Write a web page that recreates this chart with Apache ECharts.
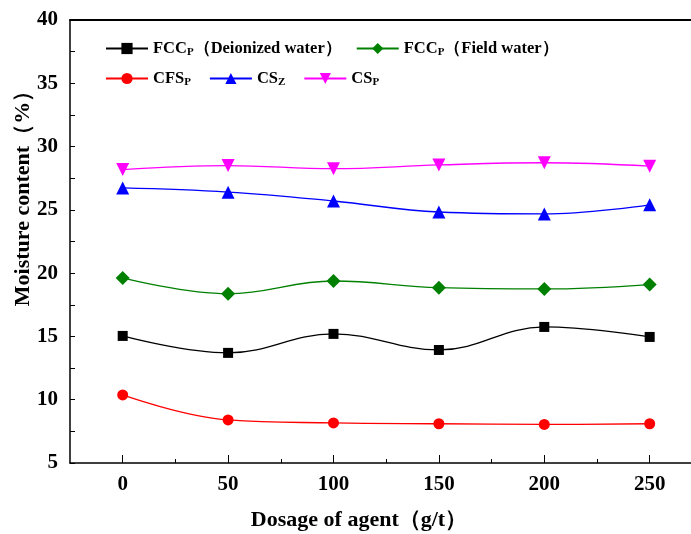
<!DOCTYPE html>
<html><head><meta charset="utf-8">
<script src="https://cdn.jsdelivr.net/npm/echarts@6/dist/echarts.min.js"></script>
<style>html,body{margin:0;padding:0;background:#fff}#c{width:691px;height:534px}</style>
</head><body><div id="c"></div>
<script>
const dosage = [0, 50, 100, 150, 200, 250];
const xTicks = [0, 50, 100, 150, 200, 250];
const xMinorTicks = [25, 75, 125, 175, 225];
const fccDeionized = [15.04, 13.7, 15.2, 13.93, 15.75, 14.96];
const fccField = [19.62, 18.38, 19.38, 18.85, 18.75, 19.1];
const cfsP = [10.38, 8.4, 8.17, 8.1, 8.05, 8.1];
const csZ = [26.73, 26.4, 25.7, 24.83, 24.68, 25.4];
const csP = [28.18, 28.5, 28.25, 28.55, 28.72, 28.45];

const F = '"Liberation Serif","Times New Roman",serif';
const names = {
  fccD: 'FCC{s|P}（Deionized water）',
  fccF: 'FCC{s|P}（Field water）',
  cfs: 'CFS{s|P}',
  csz: 'CS{s|Z}',
  csp: 'CS{s|P}'
};
function pts(arr){ return dosage.map((d,i)=>[d, arr[i]]); }
function ser(id, arr, color, symbol, size, rotate){
  return {
    name: id, type: 'line', data: pts(arr), smooth: 0.4,
    symbol: symbol, symbolSize: size, symbolRotate: rotate || 0,
    lineStyle: {color: color, width: 1.3},
    itemStyle: {color: color},
    xAxisIndex: 0, yAxisIndex: 0
  };
}
const legendText = {
  fontFamily: F, fontWeight: 'bold', fontSize: 16.5, color: '#000',
  rich: { s: {fontFamily: F, fontWeight: 'bold', fontSize: 11, color: '#000', padding: [8,0,0,0]} }
};
const XMIN = -25, XMAX = 269.6;
const chart = echarts.init(document.getElementById('c'), null, {renderer: 'canvas'});
chart.setOption({
  animation: false,
  backgroundColor: '#fff',
  grid: {left: 70, top: 20, right: 0, height: 443, containLabel: false},
  legend: [
    {data: ['fccD','fccF'], left: 100, top: 35, itemWidth: 42, itemHeight: 14, itemGap: 14,
     formatter: n => names[n], textStyle: legendText},
    {data: ['cfs','csz','csp'], left: 100, top: 65, itemWidth: 42, itemHeight: 14, itemGap: 18,
     formatter: n => names[n], textStyle: legendText}
  ],
  graphic: [
    {type: 'text', x: 359, y: 520, style: {text: 'Dosage of agent（g/t）', font: 'bold 22px ' + F,
      fill: '#000', align: 'center', verticalAlign: 'middle'}},
    {type: 'text', x: 23, y: 193, rotation: Math.PI / 2, style: {text: 'Moisture content（%）', font: 'bold 22px ' + F,
      fill: '#000', align: 'center', verticalAlign: 'middle'}}
  ],
  xAxis: [
    {type: 'value', min: XMIN, max: XMAX, position: 'bottom',
     axisLine: {show: true, onZero: false, lineStyle: {color: '#000', width: 1.5}},
     axisTick: {show: true, inside: true, length: 8, customValues: xTicks, lineStyle: {color: '#000', width: 1}},
     axisLabel: {customValues: xTicks, fontFamily: F, fontWeight: 'bold', fontSize: 21, color: '#000', margin: 11},
     splitLine: {show: false}},
    {type: 'value', min: XMIN, max: XMAX, position: 'bottom',
     axisLine: {show: false},
     axisTick: {show: true, inside: true, length: 4, customValues: xMinorTicks, lineStyle: {color: '#000', width: 1}},
     axisLabel: {show: false}, splitLine: {show: false}},
    {type: 'value', min: XMIN, max: XMAX, position: 'top',
     axisLine: {show: true, onZero: false, lineStyle: {color: '#000', width: 1.8}},
     axisTick: {show: false}, axisLabel: {show: false}, splitLine: {show: false}}
  ],
  yAxis: [
    {type: 'value', min: 5, max: 40, interval: 5, position: 'left',
     axisLine: {show: true, onZero: false, lineStyle: {color: '#000', width: 1.5}},
     axisTick: {show: true, inside: true, length: 5, lineStyle: {color: '#000', width: 1}},
     minorTick: {show: true, splitNumber: 2, length: 5, lineStyle: {color: '#000', width: 1}},
     axisLabel: {fontFamily: F, fontWeight: 'bold', fontSize: 21, color: '#000', margin: 12},
     splitLine: {show: false}}
  ],
  series: [
    ser('fccD', fccDeionized, '#000000', 'rect', 10),
    ser('fccF', fccField, '#008000', 'diamond', 14),
    ser('cfs', cfsP, '#ff0000', 'circle', 11),
    ser('csz', csZ, '#0000ff', 'triangle', 13),
    ser('csp', csP, '#ff00ff', 'triangle', 13, 180)
  ]
});
</script></body></html>
